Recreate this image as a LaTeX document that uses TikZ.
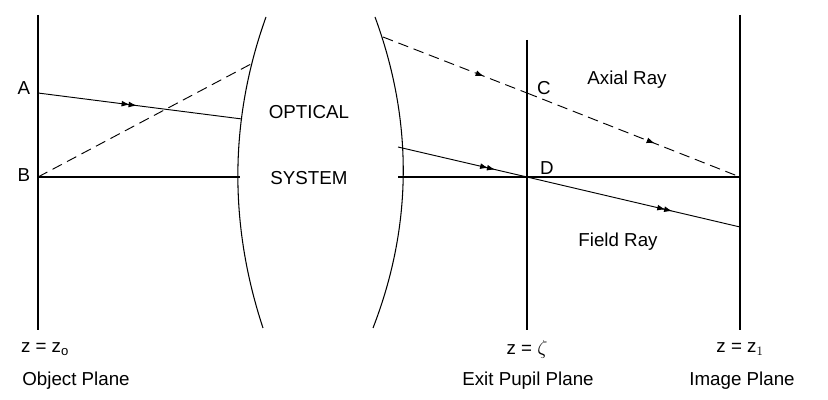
\documentclass[tikz,border=0pt]{standalone}
\usepackage{fontspec}
\setmainfont{Liberation Sans}
\usetikzlibrary{arrows.meta,decorations.markings,positioning}
\tikzset{
  plane/.style={line width=0.9pt},
  ray/.style={line width=0.8pt},
  dray/.style={ray, dash pattern=on 9pt off 5pt},
  twotip/.style={postaction={decorate}, decoration={markings,
      mark=at position #1 with {\arrow{Latex[length=7pt,width=5pt]}\arrow[xshift=6pt]{Latex[length=7pt,width=5pt]}}}},
  onetip/.style={postaction={decorate}, decoration={markings,
      mark=at position #1 with {\arrow{Latex[length=7pt,width=5pt]}}}},
  lbl/.style={font=\fontsize{16}{19}\selectfont}
}
\begin{document}
\begin{tikzpicture}[x=0.03cm,y=-0.03cm]
\useasboundingbox (0,0) rectangle (828,400);
% planes
\draw[plane] (38,15) -- (38,330);
\draw[plane] (527,40) -- (527,330);
\draw[plane] (740,15) -- (740,330);
% lens surfaces
\draw[plane] (266,17) .. controls (229,120) and (229,225) .. (263,328);
\draw[plane] (375,17) .. controls (413,120) and (413,225) .. (373,328);
% points
\coordinate (A) at (38,93);
\coordinate (B) at (38,177);
\coordinate (C) at (527,93);
\coordinate (D) at (527,177);
\coordinate (lensA) at (242,119);
\coordinate (lensB) at (240,177);
\coordinate (lensT) at (251,64);
\coordinate (outT) at (383,37);
\coordinate (outF) at (398,147);
\coordinate (outB) at (398,177);
\coordinate (imgB) at (740,177);
\coordinate (imgF) at (740,227);
% axis
\draw[plane] (B) -- (lensB);
\draw[plane] (outB) -- (imgB);
% rays
\draw[ray, twotip=0.45] (A) -- (lensA);
\draw[dray] (B) -- (lensT);
\draw[dray, onetip=0.7] (outT) -- (C);
\draw[dray, onetip=0.6] (C) -- (imgB);
\draw[ray, twotip=0.7] (outF) -- (D);
\draw[ray, twotip=0.65] (D) -- (imgF);
% labels
\node[lbl] (la) at (24,88) {A};
\node[lbl] (lb) at (24,175) {B};
\node[lbl] (lc) at (544,88) {C};
\node[lbl] (ld) at (547,168) {D};
\node[lbl] (opt) at (309,112) {OPTICAL};
\node[lbl] (sys) at (309,178) {SYSTEM};
\node[lbl] (axial) at (627,80) {Axial Ray};
\node[lbl] (field) at (618,242) {Field Ray};
\node[lbl] (z0) at (45,349) {z = z$_{\mathrm o}$};
\node[lbl] (obj) at (76,381) {Object Plane};
\node[lbl] (zz) at (527,349) {z = $\zeta$};
\node[lbl] (exit) at (528,381) {Exit Pupil Plane};
\node[lbl] (z1) at (740,349) {z = z$_1$};
\node[lbl] (img) at (742,381) {Image Plane};
\end{tikzpicture}
\end{document}
